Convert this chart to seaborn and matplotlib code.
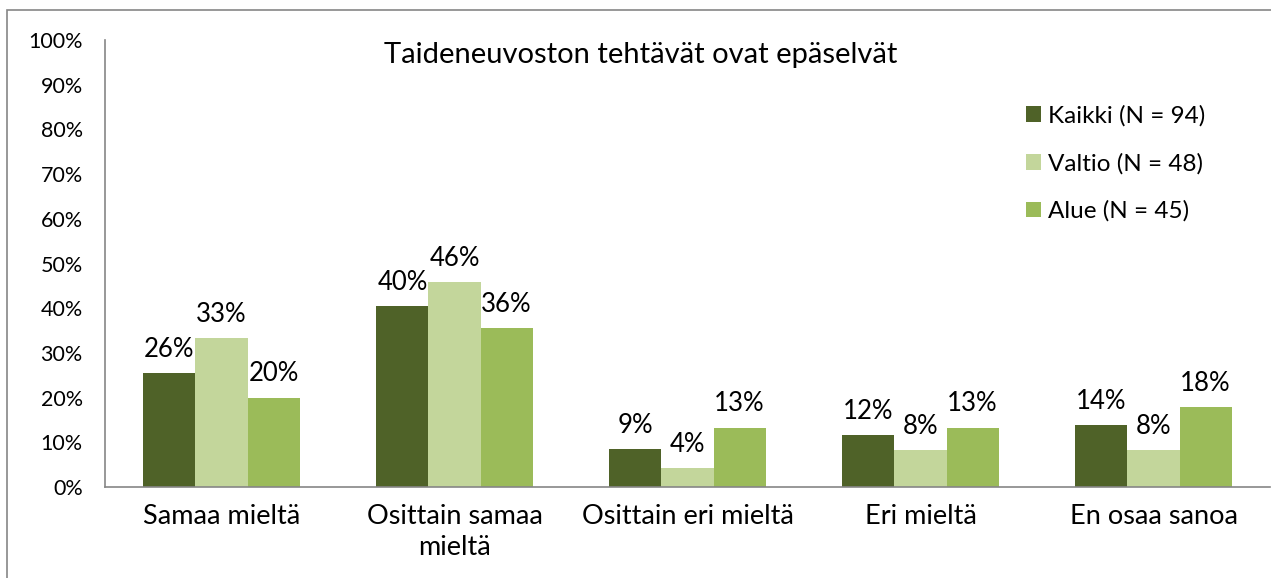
import matplotlib
matplotlib.use("Agg")
import matplotlib.pyplot as plt
import seaborn as sns
import pandas as pd
import numpy as np
from matplotlib.patches import Patch, Rectangle

categories = ["Samaa mieltä", "Osittain samaa\nmieltä", "Osittain eri mieltä", "Eri mieltä", "En osaa sanoa"]
series = ["Kaikki (N = 94)", "Valtio (N = 48)", "Alue (N = 45)"]
kaikki = [25.5, 40.4, 8.5, 11.7, 13.8]
valtio = [33.3, 45.8, 4.2, 8.3, 8.3]
alue = [20.0, 35.6, 13.3, 13.3, 17.8]
colors = ["#4F6228", "#C3D69B", "#9BBB59"]
title = "Taideneuvoston tehtävät ovat epäselvät"

sns.set_theme(style="white")
plt.rcParams['font.family'] = ['Lato', 'DejaVu Sans']
plt.rcParams['text.color'] = '#000000'

rows = []
for s, vals in zip(series, [kaikki, valtio, alue]):
    for c, v in zip(categories, vals):
        rows.append({"cat": c, "series": s, "val": v})
df = pd.DataFrame(rows)

fig = plt.figure(figsize=(12.71, 5.78), dpi=100)
ax = fig.add_axes([105/1271, 1-487/578, (1270-105)/1271, (487-40)/578])

sns.barplot(data=df, x="cat", y="val", hue="series", order=categories, hue_order=series,
            palette=colors, width=0.67, gap=0, linewidth=0, saturation=1, ax=ax, errorbar=None)
ax.get_legend().remove()

for cont in ax.containers:
    ax.bar_label(cont, labels=[f"{int(np.floor(v + 0.5))}%" for v in cont.datavalues],
                 padding=8, fontsize=18.5, color="#000000")

ax.set_ylim(0, 100)
ax.set_xlim(-0.5, 4.5)
ax.set_yticks(np.arange(0, 101, 10))
ax.set_yticklabels([f"{v}%" for v in range(0, 101, 10)], fontsize=15.5)
ax.set_xticks(range(len(categories)))
ax.set_xticklabels(categories, fontsize=19.5, linespacing=1.3)
ax.set_xticks(np.arange(-0.5, 5, 1), minor=True)
ax.tick_params(axis="x", which="major", length=0, pad=12, labelcolor="#000000")
ax.tick_params(axis="x", which="minor", length=6, width=1, color="#868686", direction="out")
ax.tick_params(axis="y", length=5, width=1, color="#868686", direction="out", pad=11, labelcolor="#000000")
ax.set_xlabel("")
ax.set_ylabel("")
for sp in ["top", "right"]:
    ax.spines[sp].set_visible(False)
for sp in ["left", "bottom"]:
    ax.spines[sp].set_color("#868686")
    ax.spines[sp].set_linewidth(1.2)

handles = [Patch(facecolor=c, edgecolor="none") for c in colors]
ax.legend(handles, series, loc="upper left", bbox_to_anchor=((1026-105)/1165, 1-(105-40)/447),
          frameon=False, fontsize=17.5, handlelength=0.62, handleheight=0.62, handletextpad=0.3,
          labelspacing=1.08, borderaxespad=0, borderpad=0)

fig.text(641/1271, 1-55/578, title, ha="center", va="center", fontsize=21, color="#000000")

fig.patches.append(Rectangle((7/1271, -0.1), 1.2, 1-10/578+0.1, transform=fig.transFigure,
                             fill=False, edgecolor="#868686", linewidth=1.2))

fig.savefig("out.png", dpi=100)
